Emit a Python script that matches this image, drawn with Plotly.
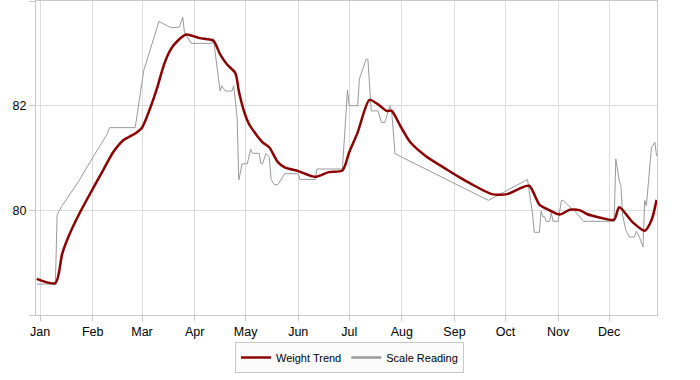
import plotly.graph_objects as go

# ---- data -------------------------------------------------------------
trend_dates = [
    "2011-12-30", "2012-01-10", "2012-01-14", "2012-01-18", "2012-01-24",
    "2012-02-01", "2012-02-07", "2012-02-13", "2012-02-19", "2012-02-26",
    "2012-03-01", "2012-03-06", "2012-03-10", "2012-03-14", "2012-03-18",
    "2012-03-22", "2012-03-27", "2012-03-29", "2012-04-04", "2012-04-12",
    "2012-04-16", "2012-04-20", "2012-04-25", "2012-04-27", "2012-04-30",
    "2012-05-03", "2012-05-07", "2012-05-11", "2012-05-15", "2012-05-20",
    "2012-05-24", "2012-06-01", "2012-06-11", "2012-06-19", "2012-06-27",
    "2012-07-01", "2012-07-06", "2012-07-13", "2012-07-19", "2012-07-23",
    "2012-07-26", "2012-07-31", "2012-08-06", "2012-08-15", "2012-08-27",
    "2012-09-04", "2012-09-10", "2012-09-23", "2012-10-02", "2012-10-09",
    "2012-10-15", "2012-10-21", "2012-10-27", "2012-11-02", "2012-11-08",
    "2012-11-14", "2012-11-18", "2012-11-26", "2012-12-04", "2012-12-07",
    "2012-12-15", "2012-12-22", "2012-12-26", "2012-12-29",
]
trend_values = [
    78.69, 78.61, 79.17, 79.52, 79.93,
    80.41, 80.76, 81.11, 81.34, 81.47,
    81.58, 81.97, 82.35, 82.79, 83.08,
    83.24, 83.36, 83.35, 83.29, 83.24,
    82.98, 82.79, 82.62, 82.28, 81.90,
    81.65, 81.46, 81.30, 81.20, 80.92,
    80.82, 80.75, 80.64, 80.73, 80.76,
    81.11, 81.49, 82.11, 82.00, 81.90,
    81.90, 81.62, 81.30, 81.04, 80.79,
    80.63, 80.52, 80.31, 80.31, 80.41,
    80.47, 80.11, 80.00, 79.92, 80.01,
    80.00, 79.93, 79.86, 79.82, 80.06,
    79.77, 79.61, 79.81, 80.20,
]

scale_dates = [
    "2011-12-30", "2012-01-10", "2012-01-11", "2012-01-12", "2012-01-14",
    "2012-01-24", "2012-02-01", "2012-02-09", "2012-02-11", "2012-02-26",
    "2012-03-02", "2012-03-11", "2012-03-18", "2012-03-23", "2012-03-25",
    "2012-03-26", "2012-03-30", "2012-04-11", "2012-04-12", "2012-04-14",
    "2012-04-16", "2012-04-17", "2012-04-19", "2012-04-23", "2012-04-24",
    "2012-04-26", "2012-04-27", "2012-04-29", "2012-05-02", "2012-05-04",
    "2012-05-05", "2012-05-09", "2012-05-10", "2012-05-11", "2012-05-13",
    "2012-05-15", "2012-05-16", "2012-05-18", "2012-05-20", "2012-05-24",
    "2012-06-01", "2012-06-02", "2012-06-11", "2012-06-12", "2012-06-27",
    "2012-06-30", "2012-07-01", "2012-07-06", "2012-07-07", "2012-07-11",
    "2012-07-12", "2012-07-14", "2012-07-18", "2012-07-20", "2012-07-22",
    "2012-07-25", "2012-07-26", "2012-07-28", "2012-09-21", "2012-10-14",
    "2012-10-17", "2012-10-18", "2012-10-21", "2012-10-22", "2012-10-23",
    "2012-10-24", "2012-10-25", "2012-10-27", "2012-10-28", "2012-10-29",
    "2012-11-01", "2012-11-03", "2012-11-04", "2012-11-08", "2012-11-11",
    "2012-11-16", "2012-12-04", "2012-12-05", "2012-12-07", "2012-12-08",
    "2012-12-09", "2012-12-11", "2012-12-13", "2012-12-16", "2012-12-17",
    "2012-12-18", "2012-12-19", "2012-12-21", "2012-12-22", "2012-12-23",
    "2012-12-26", "2012-12-28", "2012-12-29",
]
scale_values = [
    78.59, 78.59, 79.90, 79.98, 80.09,
    80.57, 81.01, 81.43, 81.58, 81.58,
    82.67, 83.61, 83.49, 83.50, 83.69,
    83.40, 83.19, 83.19, 83.29, 82.73,
    82.28, 82.38, 82.28, 82.28, 82.38,
    81.78, 80.58, 80.89, 80.89, 81.17,
    81.09, 81.09, 80.89, 80.89, 81.09,
    81.01, 80.59, 80.49, 80.49, 80.70,
    80.70, 80.59, 80.59, 80.79, 80.79,
    82.30, 82.00, 82.00, 82.51, 82.89,
    82.89, 81.90, 81.90, 81.68, 81.68,
    82.00, 81.90, 81.08, 80.19, 80.59,
    79.93, 79.58, 79.58, 79.98, 79.88,
    79.88, 79.79, 79.79, 79.96, 79.79,
    79.79, 80.19, 80.19, 80.06, 79.98,
    79.79, 79.79, 80.98, 80.57, 80.47,
    79.90, 79.61, 79.49, 79.49, 79.60,
    79.55, 79.48, 79.30, 80.19, 80.09,
    81.20, 81.30, 81.04,
]

month_ticks = ["2012-%02d-01" % m for m in range(1, 13)]
month_labels = ["Jan", "Feb", "Mar", "Apr", "May", "Jun",
                "Jul", "Aug", "Sep", "Oct", "Nov", "Dec"]
y_ticks = [78, 80, 82, 84]
y_labels = ["", "80", "82", ""]

RED = "#8b0000"
GRAY = "#9a9a9a"
FRAME = "#c8c8c8"
GRID = "#dcdcdc"

fig = go.Figure()
fig.add_trace(go.Scatter(x=scale_dates, y=scale_values, mode="lines",
                         line=dict(color=GRAY, width=1), showlegend=False,
                         hoverinfo="skip"))
fig.add_trace(go.Scatter(x=trend_dates, y=trend_values, mode="lines",
                         line=dict(color=RED, width=2.5, shape="spline",
                                   smoothing=0.7),
                         showlegend=False))
# legend entries
fig.add_trace(go.Scatter(x=[None], y=[None], mode="lines", name="Weight Trend",
                         line=dict(color=RED, width=2.5)))
fig.add_trace(go.Scatter(x=[None], y=[None], mode="lines", name="Scale Reading",
                         line=dict(color=GRAY, width=2.5)))

fig.update_layout(
    width=700, height=380,
    margin=dict(l=36, r=43, t=1, b=65, autoexpand=False),
    paper_bgcolor="white", plot_bgcolor="white",
    font=dict(family="Liberation Sans, Arial, sans-serif", size=12.5, color="#000"),
    showlegend=True,
    legend=dict(orientation="h", xref="container", yref="container",
                x=0.4993, xanchor="center", y=0.1, yanchor="top",
                bordercolor=FRAME, borderwidth=1, bgcolor="#fbfbfb",
                font=dict(size=11), itemwidth=30),
)
fig.update_xaxes(
    type="date", range=["2011-12-29 14:00", "2012-12-29 06:00"],
    tickvals=month_ticks, ticktext=month_labels,
    showgrid=True, gridcolor=GRID, gridwidth=1,
    showline=True, linecolor=FRAME, linewidth=1, mirror=True,
    ticks="outside", ticklen=5, tickcolor=FRAME,
    zeroline=False, automargin=False,
)
fig.update_yaxes(
    range=[78, 84], tickvals=y_ticks, ticktext=y_labels,
    showgrid=True, gridcolor=GRID, gridwidth=1,
    showline=True, linecolor=FRAME, linewidth=1, mirror=True,
    ticks="outside", ticklen=6, tickcolor=FRAME,
    zeroline=False, automargin=False,
)

fig.write_html("out.html", config={"displayModeBar": False},
               post_script="document.body.style.margin='0';")
